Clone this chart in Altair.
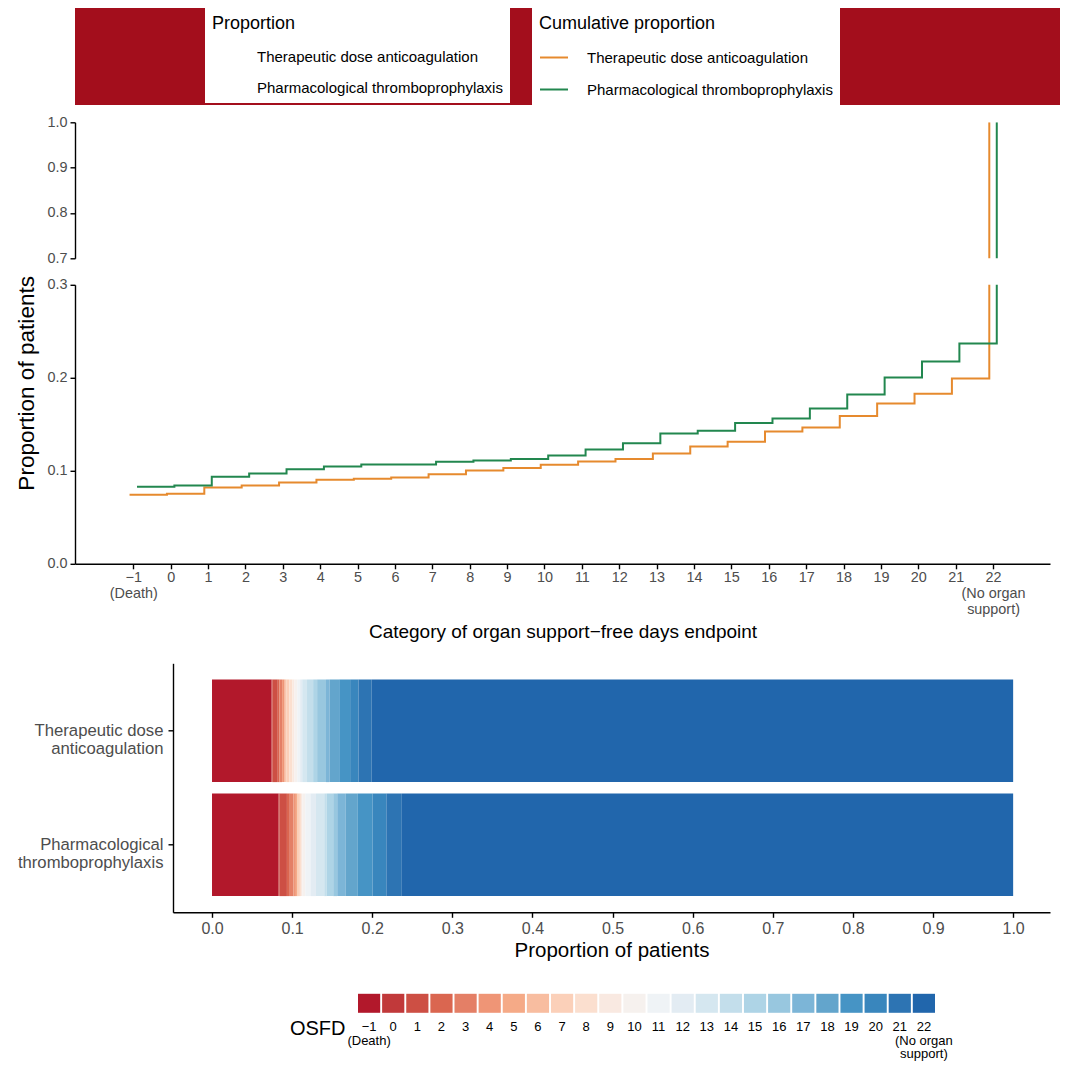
import altair as alt
import pandas as pd

# ---------------- data ----------------
categories = list(range(-1, 23))
arms = ["Therapeutic dose anticoagulation", "Pharmacological thromboprophylaxis"]

cum_therapeutic = [0.0742, 0.0753, 0.0821, 0.0842, 0.0875, 0.0903, 0.0914, 0.0928,
                   0.0964, 0.1004, 0.1029, 0.1065, 0.1100, 0.1126, 0.1186, 0.1262,
                   0.1312, 0.1423, 0.1466, 0.1588, 0.1724, 0.1828, 0.1993, 1.0]
cum_thrombo = [0.0828, 0.0842, 0.0935, 0.0971, 0.1018, 0.1047, 0.1068, 0.1068,
               0.1097, 0.1111, 0.1126, 0.1165, 0.1229, 0.1297, 0.1401, 0.1430,
               0.1513, 0.1563, 0.1670, 0.1820, 0.2003, 0.2176, 0.2369, 1.0]

y_ticks_upper = [0.7, 0.8, 0.9, 1.0]
y_ticks_lower = [0.0, 0.1, 0.2, 0.3]
x_ticks_bar = [0.0, 0.1, 0.2, 0.3, 0.4, 0.5, 0.6, 0.7, 0.8, 0.9, 1.0]

# ---------------- styles ----------------
osfd_colors = ["#B2182B", "#C1393A", "#CD4F44", "#DA6650", "#E47F66", "#EF9576",
               "#F5AA87", "#F8BDA0", "#FBD0B9", "#FBDFCF", "#F9E9E1", "#F6F1EE",
               "#EFF3F6", "#E3ECF3", "#D5E7F0", "#C3DEEB", "#AED4E6", "#98C7DF",
               "#7CB5D7", "#63A5CC", "#4694C5", "#3986BD", "#2D74B3", "#2166AC"]
line_colors = ["#E68A2E", "#22874F"]
header_red = "#A30E1C"
dodge = {arms[0]: -0.1, arms[1]: 0.1}
FONT = "Liberation Sans"
GREY = "#4D4D4D"
PLOT_W = 975

rows = []
for arm, cum in zip(arms, [cum_therapeutic, cum_thrombo]):
    prev = 0.0
    for c, v in zip(categories, cum):
        rows.append(dict(arm=arm, arm2=arm, cat=c, xpos=c + dodge[arm],
                         cum=v, start=prev, end=v))
        prev = v
df = pd.DataFrame(rows)
legend_df = pd.DataFrame({"cat": categories, "key": ["OSFD"] * len(categories)})

x_line_scale = alt.Scale(domain=[-2.559, 23.524], nice=False, zero=False)
TITLE_FS = 22.6

x_cat_label = ("datum.value == -1 ? ['\u22121', '(Death)'] : "
               "datum.value == 22 ? ['22', '(No organ', 'support)'] : datum.label")

# ---------------- header strip with the two legends ----------------
legend_common = dict(orient="none", legendY=0, symbolType="stroke", symbolSize=784,
                     titleFontSize=18, labelFontSize=15, rowPadding=9, titlePadding=9.5,
                     padding=7, labelLimit=400, titleLimit=400, values=arms,
                     fillColor="white")
header = alt.Chart(df).transform_filter("datum.cum < 0").mark_line().encode(
    x=alt.X("xpos:Q", axis=None, scale=alt.Scale(domain=[0, 1])),
    y=alt.Y("cum:Q", axis=None, scale=alt.Scale(domain=[0, 1])),
    color=alt.Color("arm:N", scale=alt.Scale(domain=arms, range=line_colors),
                    legend=alt.Legend(title="Cumulative proportion", legendX=457,
                                      symbolStrokeWidth=2, labelOffset=18, **legend_common)),
    strokeDash=alt.StrokeDash("arm2:N",
                              scale=alt.Scale(domain=arms[::-1], range=[[1, 0], [1, 0]]),
                              legend=alt.Legend(title="Proportion", legendX=130,
                                                symbolOpacity=0, symbolStrokeWidth=0,
                                                labelOffset=17, **legend_common)),
).properties(width=985, height=97, view=alt.ViewBackground(fill=header_red, stroke=None))

# ---------------- upper panel (0.7 - 1.0) ----------------
upper = alt.Chart(df).mark_line(interpolate="step-after", strokeWidth=2, clip=True).encode(
    x=alt.X("xpos:Q", scale=x_line_scale, axis=None),
    y=alt.Y("cum:Q", scale=alt.Scale(domain=[0.7, 1.0], nice=False, zero=False),
            axis=alt.Axis(values=y_ticks_upper, format=".1f", title=None,
                          labelFontSize=14.4, tickSize=5, labelPadding=3)),
    color=alt.Color("arm:N", scale=alt.Scale(domain=arms, range=line_colors), legend=None),
).properties(width=PLOT_W, height=136)

# ---------------- lower panel (0 - 0.3) ----------------
lower = alt.Chart(df).mark_line(interpolate="step-after", strokeWidth=2, clip=True).encode(
    x=alt.X("xpos:Q", scale=x_line_scale,
            axis=alt.Axis(values=categories, format="d", labelExpr=x_cat_label,
                          labelOverlap=False, labelFontSize=14.4, labelLineHeight=16,
                          tickSize=5, labelPadding=2,
                          title="Category of organ support\u2212free days endpoint",
                          titleFontSize=19, titleY=68, titleBaseline="middle")),
    y=alt.Y("cum:Q", scale=alt.Scale(domain=[0.0, 0.3], nice=False, zero=False),
            axis=alt.Axis(values=y_ticks_lower, format=".1f", title="Proportion of patients",
                          titleFontSize=TITLE_FS, titleX=-48.2, titleY=98,
                          titleBaseline="middle", labelFontSize=14.4, tickSize=5,
                          labelPadding=3)),
    color=alt.Color("arm:N", scale=alt.Scale(domain=arms, range=line_colors), legend=None),
).properties(width=PLOT_W, height=279)

# ---------------- stacked bars ----------------
arm_label = ("datum.value == 'Therapeutic dose anticoagulation' ? "
             "['Therapeutic dose\u00a0', 'anticoagulation'] : "
             "['Pharmacological', 'thromboprophylaxis']")
BAR_LEFT = 98
bars = alt.Chart(df).mark_rect().encode(
    x=alt.X("start:Q", scale=alt.Scale(domain=[-0.0487, 1.046], range=[BAR_LEFT, PLOT_W],
                                       nice=False, zero=False),
            axis=alt.Axis(values=x_ticks_bar, format=".1f", title="Proportion of patients",
                          titleFontSize=20.5, titleY=38, titleBaseline="middle",
                          labelFontSize=16, tickSize=5, labelPadding=3)),
    x2="end:Q",
    y=alt.Y("arm:N", sort=arms, scale=alt.Scale(paddingInner=0.1, paddingOuter=0.142),
            axis=alt.Axis(labelExpr=arm_label, labelFontSize=16.7, labelLineHeight=18,
                          labelPadding=5, tickSize=5, title=None, offset=-BAR_LEFT)),
    color=alt.Color("cat:O", scale=alt.Scale(domain=categories, range=osfd_colors), legend=None),
).properties(width=PLOT_W, height=249)

# ---------------- OSFD colour key ----------------
KEY_LEFT, KEY_RIGHT = 283, 860
key = alt.Chart(legend_df).mark_rect().encode(
    x=alt.X("cat:O", sort=categories,
            scale=alt.Scale(range=[KEY_LEFT, KEY_RIGHT], paddingInner=0.08, paddingOuter=0),
            axis=alt.Axis(labelExpr=x_cat_label, labelAngle=0, labelFontSize=13,
                          labelColor="black", labelLineHeight=13.5, ticks=False, tickSize=0,
                          domain=False, labelPadding=8, labelOverlap=False, title="OSFD",
                          titleFontSize=20, titleX=KEY_LEFT - 13, titleY=16,
                          titleAlign="right", titleBaseline="middle", titleAngle=0)),
    y=alt.Y("key:N", scale=alt.Scale(paddingInner=0, paddingOuter=0), axis=None),
    color=alt.Color("cat:O", scale=alt.Scale(domain=categories, range=osfd_colors), legend=None),
).properties(width=PLOT_W, height=19)

top = alt.vconcat(upper, lower, spacing=9.5).resolve_scale(color="independent")
bottom = alt.vconcat(bars, key, spacing=32.5).resolve_scale(color="independent")
rest = alt.vconcat(top, bottom, spacing=21).resolve_scale(color="independent")

chart = alt.vconcat(header, rest, spacing=9.3).resolve_scale(
    color="independent", strokeDash="independent"
).configure_view(stroke=None).configure_axis(
    domainColor="black", tickColor="black", labelColor=GREY, labelFont=FONT,
    titleFont=FONT, titleFontWeight="normal", titleColor="black", grid=False,
    domainWidth=1.4, tickWidth=1.4
).configure_legend(
    labelFont=FONT, titleFont=FONT, titleFontWeight="normal", titleColor="black",
    labelColor="black"
).properties(padding={"left": 7, "top": 0, "right": 0, "bottom": 0})

chart.save("out.html", embed_options={"renderer": "svg", "actions": False})
